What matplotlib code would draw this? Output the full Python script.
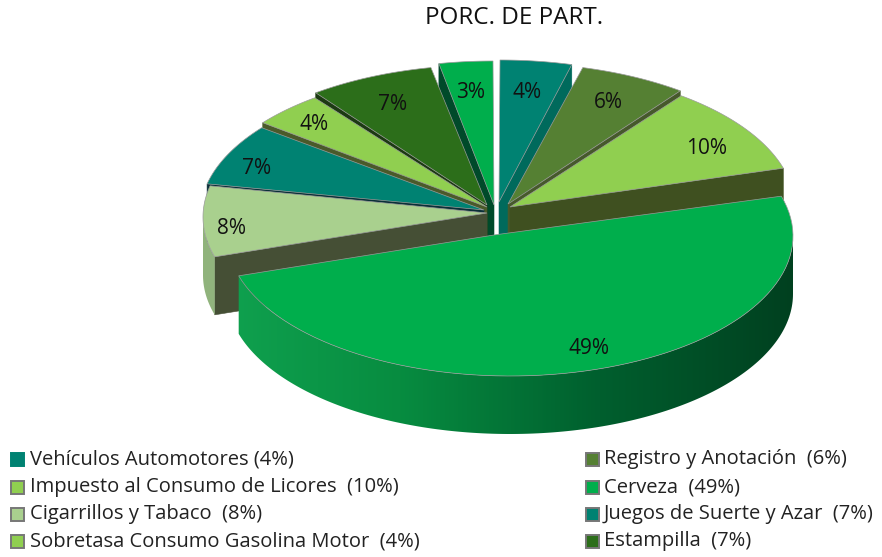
"""3D-look pie: PORC. DE PART., nine exploded slices drawn in pixel coordinates."""
import numpy as np
import matplotlib
matplotlib.use("Agg")
import matplotlib.pyplot as plt
from matplotlib.colors import LinearSegmentedColormap
from matplotlib.patches import Polygon, Rectangle

plt.rcParams["font.family"] = ["Open Sans", "DejaVu Sans"]

values = [4, 6, 10, 49, 8, 7, 4, 7, 3]
legend_labels = ["Vehículos Automotores (4%)", "Registro y Anotación  (6%)",
                 "Impuesto al Consumo de Licores  (10%)", "Cerveza  (49%)",
                 "Cigarrillos y Tabaco  (8%)", "Juegos de Suerte y Azar  (7%)",
                 "Sobretasa Consumo Gasolina Motor  (4%)", "Estampilla  (7%)"]

# look of each slice (same order as values)
top_cols = ["#008272", "#558033", "#90CF50", "#00AE4C", "#A9D08E", "#008272", "#90CF50", "#2C6E1A", "#00AE4C"]
cut_cols = ["#006A5C", "#46592B", "#3F5020", "#004A24", "#454F35", "#0A3038", "#4A5A2A", "#1C3A12", "#004A2A"]
tips = [(499, 202), (508, 204), (510, 207), (494, 235), (487, 213), (484, 210), (487, 207), (487, 205), (494, 205)]
arc_centres = [(500, 200), (511, 203), (512, 208), (510, 236), (486, 217), (483, 215), (484, 210), (485, 205), (493, 201)]
label_xy = [(527, 92), (608, 103), (707, 148), (589, 348), (231, 228), (257, 169), (314, 124), (393, 105), (471, 92)]
legend_cols = ["#008272", "#558033", "#90CF50", "#00AE4C", "#A9D08E", "#008272", "#90CF50", "#2C6E1A"]
draw_order = [0, 8, 7, 1, 6, 5, 2, 4, 3]
A, B, DEPTH = 283, 140, 58
EDGE = "#9a9a9a"

fig = plt.figure(figsize=(8.82, 5.57), dpi=100)
ax = fig.add_axes([0, 0, 1, 1])

edges = np.concatenate([[0], np.cumsum(values)]) / sum(values) * 360


def arc(i, t0, t1, n=80):
    th = np.radians(np.linspace(t0, t1, n))
    cx, cy = arc_centres[i]
    return np.column_stack([cx + A*np.sin(th), cy - B*np.cos(th)])


def wall(i, t0, t1, stops, z):
    # outer wall: horizontal gradient image clipped to the wall outline
    pts = arc(i, t0, t1, 160)
    outline = np.vstack([pts, pts[::-1] + [0, DEPTH]])
    x0, x1 = stops[0][0], stops[-1][0]
    cmap = LinearSegmentedColormap.from_list("w", [((x-x0)/(x1-x0), c) for x, c in stops])
    im = ax.imshow(np.linspace(0, 1, 256)[None, :], cmap=cmap, aspect="auto", zorder=z,
                   extent=(x0, x1, outline[:, 1].max()+1, outline[:, 1].min()-1))
    clip = Polygon(outline, transform=ax.transData, fc="none", ec="none")
    ax.add_patch(clip)
    im.set_clip_path(clip)


for z, i in enumerate(draw_order):
    t0, t1 = edges[i], edges[i+1]
    tip = np.array(tips[i], float)
    pts = arc(i, t0, t1)
    # the cut face that looks at the viewer
    corner = pts[-1] if t1 <= 180 else pts[0]
    if i != 3:
        ax.add_patch(Polygon([tip, corner, corner+[0, DEPTH], tip+[0, DEPTH]],
                             fc=cut_cols[i], ec=cut_cols[i], lw=0.4, zorder=z))
    if i == 4:
        wall(i, t0, 270, [(195, "#8FB27A"), (225, "#93B680")], z)
    if i == 3:
        wall(i, 90, t1, [(235, "#0FA04E"), (400, "#078C40"), (600, "#005F2E"), (800, "#003F1F")], z)
    ax.add_patch(Polygon(np.vstack([tip, pts]), fc=top_cols[i], ec=EDGE, lw=0.5, zorder=z+0.5))

for (x, y), v in zip(label_xy, values):
    ax.text(x, y, f"{v}%", ha="center", va="center", fontsize=15, color="#111111", zorder=30)

ax.text(514, 18, "PORC. DE PART.", ha="center", va="center", fontsize=17.5, color="#111111")

row_y = [459, 487, 514, 541]
for k, (lab, col) in enumerate(zip(legend_labels, legend_cols)):
    x0 = 10 if k % 2 == 0 else 585
    y = row_y[k//2]
    ax.add_patch(Rectangle((x0+1, y-6.5), 13, 13, fc=col, ec=col if k == 0 else "#777777", lw=1.4))
    ax.text(x0+20 if k % 2 == 0 else x0+19, y, lab, ha="left", va="center", fontsize=14.5, color="#222222")

ax.set_xlim(0, 882); ax.set_ylim(557, 0); ax.axis("off")
fig.savefig("out.png", dpi=100)
